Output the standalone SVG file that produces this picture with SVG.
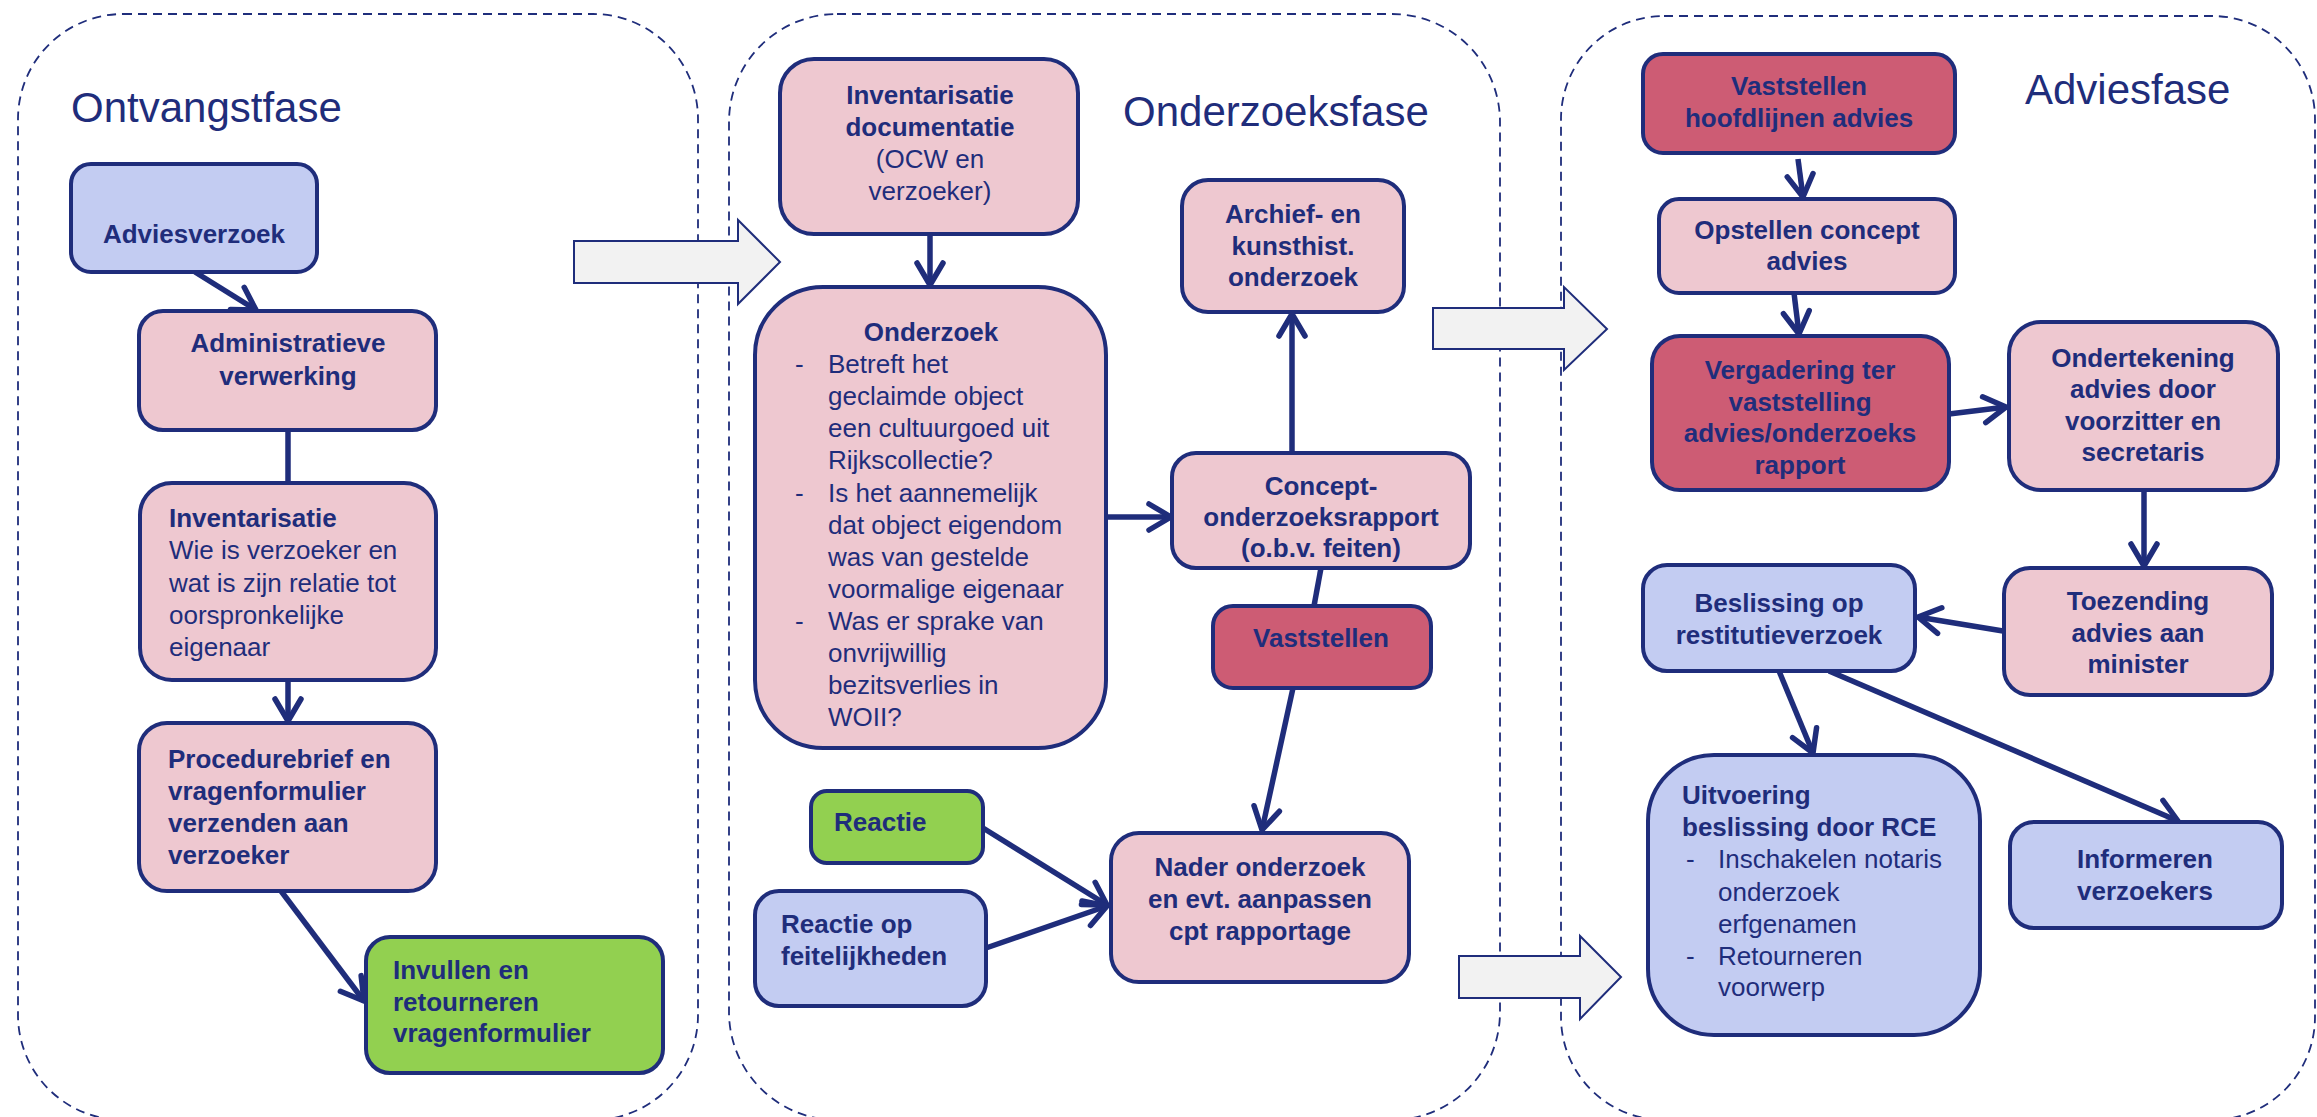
<svg xmlns="http://www.w3.org/2000/svg" width="2317" height="1117" viewBox="0 0 2317 1117">
<style>
.cont{fill:none;stroke:#1F2D7B;stroke-width:1.8;stroke-dasharray:9 6}
.box{stroke:#1F2D7B;stroke-width:4}
.pink{fill:#EEC8D0}
.rose{fill:#CD5C74}
.blue{fill:#C3CCF2}
.green{fill:#92D050}
.big{fill:#F2F2F2;stroke:#1F2D7B;stroke-width:2}
text{font-family:"Liberation Sans",Arial,sans-serif;fill:#1F2D7B;font-size:26px}
.b{font-weight:bold}
.c{text-anchor:middle}
.title{font-size:42px}
.con line{stroke:#1F2D7B;stroke-width:5.5;marker-end:url(#ah)}
.con line.n{marker-end:none}
</style>
<defs>
<marker id="ah" markerUnits="userSpaceOnUse" viewBox="-30 -18 36 36" refX="0" refY="0" markerWidth="36" markerHeight="36" orient="auto">
<path d="M-22,-13 L0,0 L-22,13" fill="none" stroke="#1F2D7B" stroke-width="5.5" stroke-linecap="round" stroke-linejoin="round"/>
</marker>
</defs>
<rect width="2317" height="1117" fill="#FFFFFF"/>

<g id="phases">
<rect class="cont" x="18" y="14" width="680" height="1106" rx="105" ry="105"/>
<rect class="cont" x="729" y="14" width="771" height="1106" rx="108" ry="108"/>
<rect class="cont" x="1561" y="16" width="754" height="1104" rx="103" ry="103"/>
<text class="title" x="71" y="122">Ontvangstfase</text>
<text class="title" x="1123" y="126">Onderzoeksfase</text>
<text class="title" x="2025" y="104">Adviesfase</text>
</g>

<g id="phase-arrows">
<path class="big" d="M574,241 H738 V220 L780,262 L738,304 V283 H574 Z"/>
<path class="big" d="M1433,308 H1564 V287 L1607,329 L1564,370 V349 H1433 Z"/>
<path class="big" d="M1459,956 H1580 V936 L1621,977 L1580,1019 V998 H1459 Z"/>
</g>

<g class="con" id="connectors">
<line x1="195" y1="272" x2="256" y2="310"/>
<line class="n" x1="288" y1="430" x2="288" y2="483"/>
<line x1="288" y1="680" x2="288" y2="721"/>
<line x1="281" y1="891" x2="364" y2="1001"/>
<line x1="930" y1="234" x2="930" y2="285"/>
<line x1="1106" y1="517" x2="1171" y2="517"/>
<line x1="1292" y1="453" x2="1292" y2="314"/>
<line class="n" x1="1321" y1="568" x2="1314" y2="606"/>
<line x1="1293" y1="688" x2="1262" y2="830"/>
<line x1="983" y1="828" x2="1107" y2="905"/>
<line x1="986" y1="948" x2="1107" y2="906"/>
<line x1="1798" y1="159" x2="1803" y2="197"/>
<line x1="1794" y1="293" x2="1799" y2="334"/>
<line x1="1949" y1="414" x2="2006" y2="407"/>
<line x1="2144" y1="490" x2="2144" y2="566"/>
<line x1="2003" y1="631" x2="1918" y2="617"/>
<line x1="1779" y1="671" x2="1813" y2="753"/>
<line x1="1829" y1="671" x2="2178" y2="821"/>
</g>

<g id="adviesverzoek">
<rect class="box blue" x="71" y="164" width="246" height="108" rx="20"/>
<text class="b c" x="194" y="243">Adviesverzoek</text>
</g>
<g id="administratieve">
<rect class="box pink" x="139" y="311" width="297" height="119" rx="24"/>
<text class="b c" x="288" y="352">Administratieve</text>
<text class="b c" x="288" y="385">verwerking</text>
</g>
<g id="inventarisatie">
<rect class="box pink" x="140" y="483" width="296" height="197" rx="32"/>
<text class="b" x="169" y="527">Inventarisatie</text>
<text x="169" y="559">Wie is verzoeker en</text>
<text x="169" y="592">wat is zijn relatie tot</text>
<text x="169" y="624">oorspronkelijke</text>
<text x="169" y="656">eigenaar</text>
</g>
<g id="procedurebrief">
<rect class="box pink" x="139" y="723" width="297" height="168" rx="28"/>
<text class="b" x="168" y="768">Procedurebrief en</text>
<text class="b" x="168" y="800">vragenformulier</text>
<text class="b" x="168" y="832">verzenden aan</text>
<text class="b" x="168" y="864">verzoeker</text>
</g>
<g id="invullen">
<rect class="box green" x="366" y="937" width="297" height="136" rx="24"/>
<text class="b" x="393" y="979">Invullen en</text>
<text class="b" x="393" y="1011">retourneren</text>
<text class="b" x="393" y="1042">vragenformulier</text>
</g>

<g id="inventarisatie-documentatie">
<rect class="box pink" x="780" y="59" width="298" height="175" rx="34"/>
<text class="b c" x="930" y="104">Inventarisatie</text>
<text class="b c" x="930" y="136">documentatie</text>
<text class="c" x="930" y="168">(OCW en</text>
<text class="c" x="930" y="200">verzoeker)</text>
</g>
<g id="onderzoek">
<rect class="box pink" x="755" y="287" width="351" height="461" rx="68"/>
<text class="b c" x="931" y="341">Onderzoek</text>
<text x="795" y="373">-</text><text x="828" y="373">Betreft het</text>
<text x="828" y="405">geclaimde object</text>
<text x="828" y="437">een cultuurgoed uit</text>
<text x="828" y="469">Rijkscollectie?</text>
<text x="795" y="502">-</text><text x="828" y="502">Is het aannemelijk</text>
<text x="828" y="534">dat object eigendom</text>
<text x="828" y="566">was van gestelde</text>
<text x="828" y="598">voormalige eigenaar</text>
<text x="795" y="630">-</text><text x="828" y="630">Was er sprake van</text>
<text x="828" y="662">onvrijwillig</text>
<text x="828" y="694">bezitsverlies in</text>
<text x="828" y="726">WOII?</text>
</g>
<g id="archief">
<rect class="box pink" x="1182" y="180" width="222" height="132" rx="26"/>
<text class="b c" x="1293" y="223">Archief- en</text>
<text class="b c" x="1293" y="255">kunsthist.</text>
<text class="b c" x="1293" y="286">onderzoek</text>
</g>
<g id="concept">
<rect class="box pink" x="1172" y="453" width="298" height="115" rx="24"/>
<text class="b c" x="1321" y="495">Concept-</text>
<text class="b c" x="1321" y="526">onderzoeksrapport</text>
<text class="b c" x="1321" y="557">(o.b.v. feiten)</text>
</g>
<g id="vaststellen">
<rect class="box rose" x="1213" y="606" width="218" height="82" rx="20"/>
<text class="b c" x="1321" y="647">Vaststellen</text>
</g>
<g id="nader">
<rect class="box pink" x="1111" y="833" width="298" height="149" rx="28"/>
<text class="b c" x="1260" y="876">Nader onderzoek</text>
<text class="b c" x="1260" y="908">en evt. aanpassen</text>
<text class="b c" x="1260" y="940">cpt rapportage</text>
</g>
<g id="reactie">
<rect class="box green" x="811" y="791" width="172" height="72" rx="16"/>
<text class="b" x="834" y="831">Reactie</text>
</g>
<g id="reactie-feitelijkheden">
<rect class="box blue" x="755" y="891" width="231" height="115" rx="24"/>
<text class="b" x="781" y="933">Reactie op</text>
<text class="b" x="781" y="965">feitelijkheden</text>
</g>

<g id="vaststellen-hoofdlijnen">
<rect class="box rose" x="1643" y="54" width="312" height="99" rx="20"/>
<text class="b c" x="1799" y="95">Vaststellen</text>
<text class="b c" x="1799" y="127">hoofdlijnen advies</text>
</g>
<g id="opstellen">
<rect class="box pink" x="1659" y="199" width="296" height="94" rx="20"/>
<text class="b c" x="1807" y="239">Opstellen concept</text>
<text class="b c" x="1807" y="270">advies</text>
</g>
<g id="vergadering">
<rect class="box rose" x="1652" y="336" width="297" height="154" rx="28"/>
<text class="b c" x="1800" y="379">Vergadering ter</text>
<text class="b c" x="1800" y="411">vaststelling</text>
<text class="b c" x="1800" y="442">advies/onderzoeks</text>
<text class="b c" x="1800" y="474">rapport</text>
</g>
<g id="ondertekening">
<rect class="box pink" x="2009" y="322" width="269" height="168" rx="32"/>
<text class="b c" x="2143" y="367">Ondertekening</text>
<text class="b c" x="2143" y="398">advies door</text>
<text class="b c" x="2143" y="430">voorzitter en</text>
<text class="b c" x="2143" y="461">secretaris</text>
</g>
<g id="toezending">
<rect class="box pink" x="2004" y="568" width="268" height="127" rx="26"/>
<text class="b c" x="2138" y="610">Toezending</text>
<text class="b c" x="2138" y="642">advies aan</text>
<text class="b c" x="2138" y="673">minister</text>
</g>
<g id="beslissing">
<rect class="box blue" x="1643" y="565" width="272" height="106" rx="24"/>
<text class="b c" x="1779" y="612">Beslissing op</text>
<text class="b c" x="1779" y="644">restitutieverzoek</text>
</g>
<g id="uitvoering">
<rect class="box blue" x="1648" y="755" width="332" height="280" rx="66"/>
<text class="b" x="1682" y="804">Uitvoering</text>
<text class="b" x="1682" y="836">beslissing door RCE</text>
<text x="1686" y="868">-</text><text x="1718" y="868">Inschakelen notaris</text>
<text x="1718" y="901">onderzoek</text>
<text x="1718" y="933">erfgenamen</text>
<text x="1686" y="965">-</text><text x="1718" y="965">Retourneren</text>
<text x="1718" y="996">voorwerp</text>
</g>
<g id="informeren">
<rect class="box blue" x="2010" y="822" width="272" height="106" rx="24"/>
<text class="b c" x="2145" y="868">Informeren</text>
<text class="b c" x="2145" y="900">verzoekers</text>
</g>
</svg>
